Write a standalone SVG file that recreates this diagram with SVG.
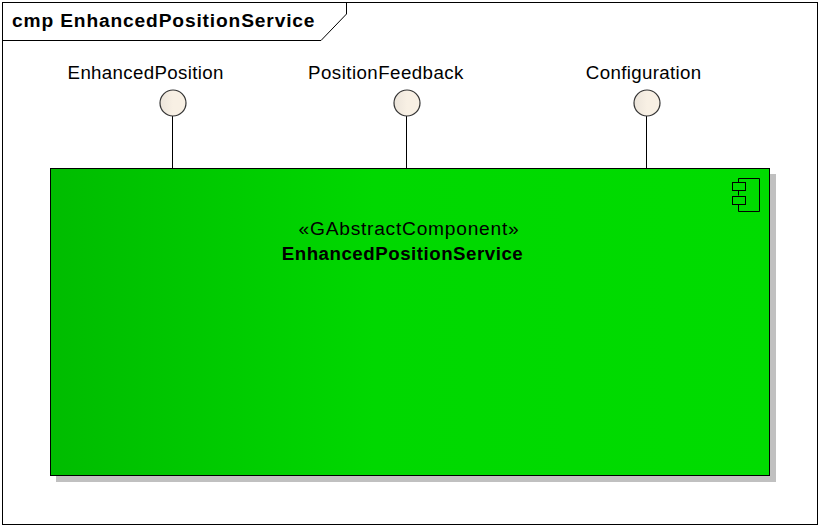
<svg xmlns="http://www.w3.org/2000/svg" width="820" height="526" viewBox="0 0 820 526">
<style>
text{font-family:"Liberation Sans",Arial,sans-serif;fill:#000}
.l{font-size:18.7px;text-anchor:middle;letter-spacing:.35px}
.s{fill:none;stroke:#000;stroke-width:1}
.c{fill:url(#cg);stroke:#333;stroke-width:1.2}
</style>
<defs>
<linearGradient id="gg" x1="0" x2="1" y1="0" y2="0"><stop offset="0" stop-color="#00bc00"/><stop offset="0.45" stop-color="#00d800"/><stop offset="1" stop-color="#00dc00"/></linearGradient>
<linearGradient id="cg" x1="0" x2="1" y1="0" y2="0"><stop offset="0" stop-color="#ebe4da"/><stop offset="0.5" stop-color="#f8f0e4"/><stop offset="1" stop-color="#f8f0e4"/></linearGradient>
</defs>
<rect width="820" height="526" fill="#fff"/>
<g id="frame">
<rect x="2.500" y="2.500" width="815" height="522" fill="none" stroke="#000"/>
<path class="s" d="M2.500 40.500H321L346.500 14V2.500"/>
<text x="12" y="27" font-size="19.200" font-weight="700" style="letter-spacing:.85px">cmp EnhancedPositionService</text>
</g>
<g id="connectors">
<path class="s" d="M172.500 116V168M406.500 116V168M646.500 116V168"/>
</g>
<g id="EnhancedPosition">
<circle class="c" cx="173" cy="103" r="13"/>
<text class="l" x="145.700" y="79">EnhancedPosition</text>
</g>
<g id="PositionFeedback">
<circle class="c" cx="407" cy="103" r="13"/>
<text class="l" x="386" y="79" style="letter-spacing:.45px">PositionFeedback</text>
</g>
<g id="Configuration">
<circle class="c" cx="647" cy="103" r="13"/>
<text class="l" x="643.700" y="79">Configuration</text>
</g>
<g id="EnhancedPositionService">
<rect x="56" y="174" width="720" height="308" fill="#c0c0c0"/>
<rect x="50.500" y="168.500" width="719" height="307" fill="url(#gg)" stroke="#000"/>
<path class="s" d="M738.500 182.500V178.500H759.500V211.500H738.500V204.500M738.500 195.500V190.500"/>
<rect class="s" x="732.500" y="182.500" width="13" height="8"/>
<rect class="s" x="732.500" y="196.500" width="13" height="8"/>
<text class="l" x="409" y="235" style="font-size:19.2px;letter-spacing:.75px">«GAbstractComponent»</text>
<text class="l" x="402.500" y="260" font-weight="700" style="letter-spacing:.52px">EnhancedPositionService</text>
</g>
</svg>
